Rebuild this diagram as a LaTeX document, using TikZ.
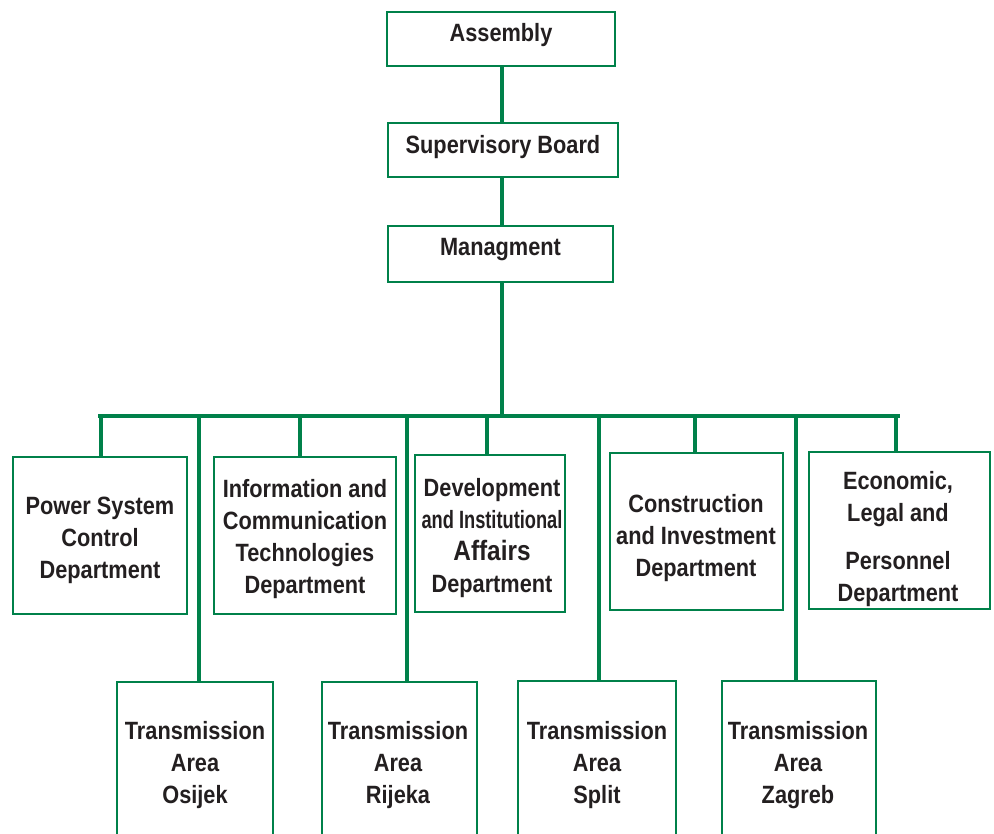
\documentclass[tikz,border=0pt]{standalone}
\usepackage{fontspec}
\newfontfamily\labfont{Liberation Sans}[FakeStretch=0.87]
\newfontfamily\narrowlabfont{Liberation Sans}[FakeStretch=0.73]
\definecolor{orggreen}{HTML}{00814A}
\definecolor{orgtext}{HTML}{231F20}
\begin{document}
\begin{tikzpicture}[x=1pt,y=-1pt,
  box/.style={draw=orggreen,line width=2pt,fill=white,inner sep=0pt,align=center,
    font=\labfont\bfseries\fontsize{25}{32}\selectfont,text=orgtext},
  lbl/.style={inner sep=0pt,align=center,font=\labfont\bfseries\fontsize{25}{32}\selectfont,text=orgtext},
  conn/.style={draw=orggreen,line width=4pt},
]
\useasboundingbox (0,0) rectangle (994,834);
\clip (0,0) rectangle (994,834);
% top chain
\node[box,minimum width=228pt,minimum height=54pt] (asm) at (501,39) {};
\node[lbl] (asmT) at (501,35) {Assembly};
\node[box,minimum width=230pt,minimum height=54pt,line width=1.6pt] (sup) at (503,150) {};
\node[lbl] (supT) at (503,147) {Supervisory Board};
\node[box,minimum width=225pt,minimum height=56pt] (mgt) at (500.5,254) {};
\node[lbl] (mgtT) at (500.5,250) {Managment};
\coordinate (spine) at (502,416);
\draw[conn] (spine |- asm.south) -- (spine |- sup.north);
\draw[conn] (spine |- sup.south) -- (spine |- mgt.north);
% bus
\coordinate (busL) at (100,416);
\coordinate (busR) at (898,416);
\draw[conn] (spine |- mgt.south) -- (spine);
\draw[conn,line cap=rect] (busL) -- (busR);
% departments
\node[box,minimum width=174pt,minimum height=157pt,line width=1.6pt] (psc) at (100,535.5) {};
\node[lbl] (pscT) at (100,540) {Power System\\Control\\Department};
\node[box,minimum width=182pt,minimum height=157pt,line width=2.6pt] (ict) at (305,535.5) {};
\node[lbl] (ictT) at (305,539) {Information and\\Communication\\Technologies\\Department};
\node[box,minimum width=150pt,minimum height=157pt,line width=1.6pt] (dev) at (490,533.5) {};
\node[lbl] (devT) at (492,538) {Development\\{\narrowlabfont\bfseries and Institutional}\\{\fontsize{28}{32}\selectfont Affairs}\\Department};
\node[box,minimum width=173pt,minimum height=157pt,line width=2.6pt] (con) at (696.5,531.5) {};
\node[lbl] (conT) at (696,538) {Construction\\and Investment\\Department};
\node[box,minimum width=181pt,minimum height=157pt,line width=2.2pt] (eco) at (899.5,530.5) {};
\node[lbl] (ecoT) at (898,539) {Economic,\\Legal and\\[16pt]Personnel\\Department};
% department drops
\coordinate (d1) at (101,416);
\coordinate (d2) at (300,416);
\coordinate (d3) at (487,416);
\coordinate (d4) at (695,416);
\coordinate (d5) at (896,416);
\draw[conn] (d1) -- (d1 |- psc.north);
\draw[conn] (d2) -- (d2 |- ict.north);
\draw[conn] (d3) -- (d3 |- dev.north);
\draw[conn] (d4) -- (d4 |- con.north);
\draw[conn] (d5) -- (d5 |- eco.north);
% transmission areas
\node[box,minimum width=156pt,minimum height=180pt,line width=1.6pt,anchor=north] (osi) at (195,681) {};
\node[box,minimum width=155pt,minimum height=180pt,line width=1.6pt,anchor=north] (rij) at (399.5,681) {};
\node[box,minimum width=158pt,minimum height=180pt,line width=1.6pt,anchor=north] (spl) at (597,680) {};
\node[box,minimum width=154pt,minimum height=180pt,line width=1.6pt,anchor=north] (zag) at (799,680) {};
\node[lbl] (osiT) at (195,765) {Transmission\\Area\\Osijek};
\node[lbl] (rijT) at (398,765) {Transmission\\Area\\Rijeka};
\node[lbl] (splT) at (597,765) {Transmission\\Area\\Split};
\node[lbl] (zagT) at (798,765) {Transmission\\Area\\Zagreb};
\coordinate (t1) at (199,416);
\coordinate (t2) at (407,416);
\coordinate (t3) at (599,416);
\coordinate (t4) at (796,416);
\draw[conn] (t1) -- (t1 |- osi.north);
\draw[conn] (t2) -- (t2 |- rij.north);
\draw[conn] (t3) -- (t3 |- spl.north);
\draw[conn] (t4) -- (t4 |- zag.north);
\end{tikzpicture}
\end{document}
